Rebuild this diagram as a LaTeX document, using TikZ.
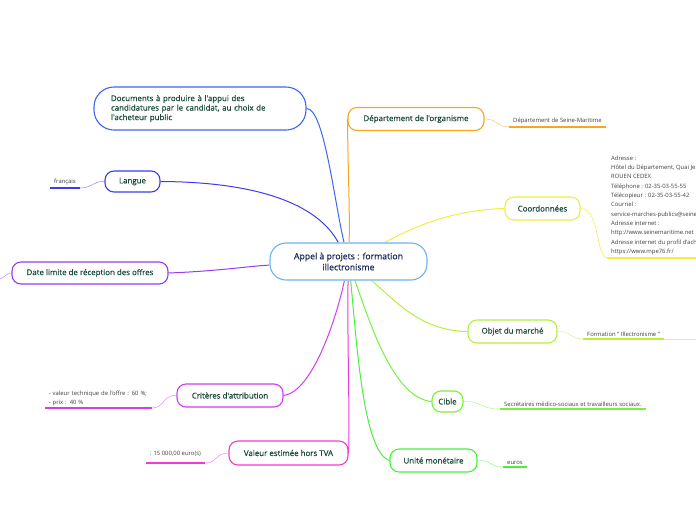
\documentclass[tikz,border=0pt]{standalone}
\usepackage{fontspec}
\setmainfont{Open Sans}
\newfontfamily\semibold{Open Sans}[FakeBold=0.6]
\usetikzlibrary{positioning, backgrounds}

\definecolor{txtgreen}{HTML}{1B4A3A}
\definecolor{txtnavy}{HTML}{1D2B5C}
\definecolor{cCenter}{HTML}{6CB4EA}
\definecolor{cDoc}{HTML}{3F66F2}
\definecolor{cDept}{HTML}{F6A623}
\definecolor{cCoord}{HTML}{F2EE3C}
\definecolor{cObjet}{HTML}{B4F03C}
\definecolor{cCible}{HTML}{78F03C}
\definecolor{cUnite}{HTML}{48F03C}
\definecolor{cValeur}{HTML}{F03CD2}
\definecolor{cCrit}{HTML}{D23CF0}
\definecolor{cDate}{HTML}{963CF0}
\definecolor{cLangue}{HTML}{3C3CF0}

\begin{document}
\begin{tikzpicture}[
        x=1pt, y=-1pt,
        topic/.style={rectangle, rounded corners=16pt, line width=1.1pt, draw=cCenter, fill=white, align=center, text=txtnavy, font=\semibold\fontsize{8.7}{11}\selectfont, minimum width=157pt, minimum height=37pt},
        branch/.style={rectangle, rounded corners=9pt, line width=1.1pt, fill=white, align=center, text=txtgreen, font=\semibold\fontsize{7.9}{9.5}\selectfont, minimum height=23pt, inner xsep=2pt},
        leaf/.style={font=\fontsize{5.9}{9.3}\selectfont, text=black!75, inner xsep=4pt, inner ysep=2.5pt, align=left},
        link/.style={line width=1pt},
        twig/.style={line width=0.5pt},
        underline/.style={line width=1.8pt}
    ]
        \clip (0,0) rectangle (696,520);

        % Central topic
        \node[topic] (appel) at (348.5,261.5) {Appel à projets : formation\\illectronisme};

        % Branches
        \node[branch, draw=cDoc, rounded corners=20pt, align=left, text width=178pt, inner xsep=17pt, minimum height=43pt] (docs) at (200,108.5) {Documents à produire à l'appui des\\candidatures par le candidat, au choix de\\l'acheteur public};
        \node[branch, draw=cDept, minimum width=136pt] (dept) at (416,119) {Département de l'organisme};
        \node[branch, draw=cCoord, minimum width=75pt] (coord) at (542.5,208.5) {Coordonnées};
        \node[branch, draw=cObjet, minimum width=89pt] (objet) at (512.5,331.5) {Objet du marché};
        \node[branch, draw=cCible, minimum width=31pt, minimum height=21pt] (cible) at (447.5,401.5) {Cible};
        \node[branch, draw=cUnite, minimum width=87pt] (unite) at (433.5,460.5) {Unité monétaire};
        \node[branch, draw=cValeur, minimum width=119pt, minimum height=24pt] (valeur) at (288.5,453) {Valeur estimée hors TVA};
        \node[branch, draw=cCrit, minimum width=106pt] (crit) at (230,395.5) {Critères d'attribution};
        \node[branch, draw=cDate, minimum width=156pt, minimum height=22pt] (date) at (90,273) {Date limite de réception des offres};
        \node[branch, draw=cLangue, minimum width=55pt, minimum height=21pt] (langue) at (132.5,181.5) {Langue};

        % Leaves
        \node[leaf, anchor=south west] (deptleaf) at (509,127) {Département de Seine-Maritime};
        \node[leaf, anchor=south west, inner ysep=3pt] (coordleaf) at (607,258) {Adresse :\\Hôtel du Département, Quai Jean Moulin\\ROUEN CEDEX\\Téléphone : 02-35-03-55-55\\Télécopieur : 02-35-03-55-42\\Courriel :\\service-marches-publics@seinemaritime.fr\\Adresse internet :\\http://www.seinemaritime.net\\Adresse internet du profil d'acheteur :\\https://www.mpe76.fr/};
        \node[leaf, anchor=south west] (objetleaf) at (583,339) {Formation '' Illectronisme ''};
        \node[leaf, anchor=south west] (cibleleaf) at (500,409) {Secrétaires médico-sociaux et travailleurs sociaux.};
        \node[leaf, anchor=south west] (uniteleaf) at (503,467) {euros};
        \node[leaf, anchor=south east, inner ysep=6pt] (valeurleaf) at (205,463) {: 15 000,00 euro(s)};
        \node[leaf, anchor=south east, text width=99pt, inner ysep=2pt] (critleaf) at (152,408) {- valeur technique de l'offre : 60 \%;\\- prix : 40 \%};
        \node[leaf, anchor=south east] (langueleaf) at (80,188) {français};
        \coordinate (dateleaf) at (-2,279);
        \coordinate (objetnext) at (700,339);

        \begin{scope}[on background layer]
            % Links from the central topic
            \draw[link, cDoc] (docs.east) .. controls (324,108) and (334,200) .. (appel);
            \draw[link, cDept] (dept.west) .. controls (348,170) and (350,215) .. (appel);
            \draw[link, cLangue] (langue.east) .. controls (260,182) and (318,205) .. (appel);
            \draw[link, cDate] (date.east) .. controls (220,271) and (250,266) .. (appel);
            \draw[link, cCoord] (coord.west) .. controls (450,210) and (412,228) .. (appel);
            \draw[link, cObjet] (objet.west) .. controls (420,331) and (395,300) .. (appel);
            \draw[link, cCible] (cible.west) .. controls (395,398) and (372,330) .. (appel);
            \draw[link, cUnite] (unite.west) .. controls (362,452) and (356,330) .. (appel);
            \draw[link, cValeur] (valeur.east) .. controls (350,420) and (347,330) .. (appel);
            \draw[link, cCrit] (crit.east) .. controls (312,392) and (336,320) .. (appel);
        \end{scope}

        % Twigs and underlines
        \draw[twig, cDept!60] (dept.east) .. controls (498,119) and (496,127) .. (deptleaf.south west);
        \draw[underline, cDept] (deptleaf.south west) -- (deptleaf.south east);
        \draw[twig, cCoord] (coord.east) .. controls (600,208) and (596,258) .. (coordleaf.south west);
        \draw[underline, cCoord] (coordleaf.south west) -- (coordleaf.south east);
        \draw[twig, cObjet!60] (objet.east) .. controls (572,331) and (570,339) .. (objetleaf.south west);
        \draw[underline, cObjet] (objetleaf.south west) -- (objetleaf.south east);
        \draw[twig, cObjet!60] (objetleaf.south east) -- (objetnext);
        \draw[twig, cCible!60] (cible.east) .. controls (482,401) and (480,409) .. (cibleleaf.south west);
        \draw[underline, cCible] (cibleleaf.south west) -- (cibleleaf.south east);
        \draw[twig, cUnite!60] (unite.east) .. controls (491,460) and (490,467) .. (uniteleaf.south west);
        \draw[underline, cUnite] (uniteleaf.south west) -- (uniteleaf.south east);
        \draw[twig, cValeur!60] (valeur.west) .. controls (215,453) and (218,463) .. (valeurleaf.south east);
        \draw[underline, cValeur] (valeurleaf.south west) -- (valeurleaf.south east);
        \draw[twig, cCrit!60] (crit.west) .. controls (162,395) and (165,408) .. (critleaf.south east);
        \draw[underline, cCrit] (critleaf.south west) -- (critleaf.south east);
        \draw[twig, cLangue!60] (langue.west) .. controls (92,181) and (93,188) .. (langueleaf.south east);
        \draw[underline, cLangue] (langueleaf.south west) -- (langueleaf.south east);
        \draw[twig, cDate!60] (date.west) .. controls (5,273) and (5,279) .. (dateleaf);
    \end{tikzpicture}
\end{document}
